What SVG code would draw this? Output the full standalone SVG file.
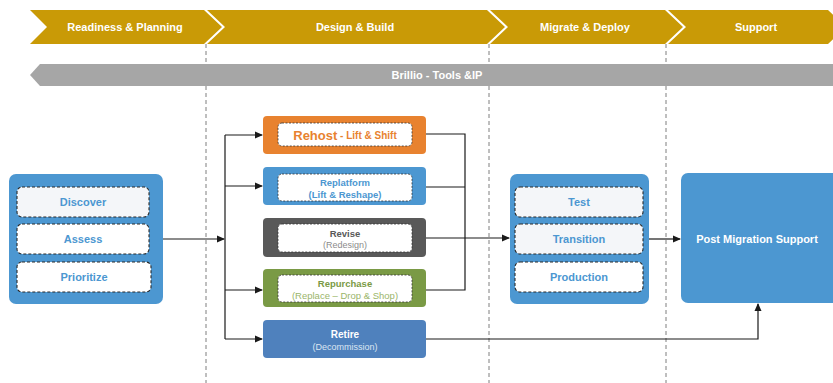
<svg xmlns="http://www.w3.org/2000/svg" width="833" height="383" viewBox="0 0 833 383">
<defs>
<marker id="ah" markerWidth="8" markerHeight="8" refX="7" refY="4" orient="auto" markerUnits="userSpaceOnUse">
<path d="M0,0.5 L8,4 L0,7.5 Z" fill="#1a1a1a"/>
</marker>
<style>
text{font-family:"Liberation Sans",Arial,sans-serif;text-anchor:middle;dominant-baseline:central}
.phase{fill:#c99a06}
.pt{fill:#ffffff;font-weight:bold;font-size:11px}
.vdash{stroke:#7f7f7f;stroke-width:1;stroke-dasharray:4,3;fill:none}
.blue{fill:#4c97d1}
.inner{stroke:#2b2b2b;stroke-width:1.1;stroke-dasharray:3,2}
.innerw{fill:#ffffff}
.innerl{fill:#f4f6f9}
.bt{fill:#4c97d1;font-weight:bold;font-size:11px}
.conn{stroke:#1a1a1a;stroke-width:1.2;fill:none}
.mdash{fill:#ffffff;stroke:#333;stroke-width:0.8;stroke-dasharray:2,1.5}
</style>
</defs>

<g id="phases">
<path class="phase" d="M30,10 L204,10 L222,27 L204,44 L30,44 L47,27 Z"/>
<path class="phase" d="M207,10 L487,10 L505,27 L487,44 L207,44 L225,27 Z"/>
<path class="phase" d="M490,10 L665,10 L683,27 L665,44 L490,44 L508,27 Z"/>
<path class="phase" d="M668,10 L828,10 L846,27 L828,44 L668,44 L686,27 Z"/>
<text class="pt" x="125" y="27">Readiness &amp; Planning</text>
<text class="pt" x="355" y="27">Design &amp; Build</text>
<text class="pt" x="585" y="27">Migrate &amp; Deploy</text>
<text class="pt" x="756" y="27">Support</text>
</g>

<g id="dividers">
<line class="vdash" x1="206" y1="44" x2="206" y2="383"/>
<line class="vdash" x1="489" y1="44" x2="489" y2="383"/>
<line class="vdash" x1="666" y1="44" x2="666" y2="383"/>
</g>

<g id="tools-bar">
<path d="M40,64 L833,64 L833,86 L40,86 L30,75 Z" fill="#a6a6a6"/>
<text class="pt" x="437" y="75">Brillio - Tools &amp;IP</text>
</g>

<g id="connectors">
<line class="conn" x1="163" y1="239" x2="224" y2="239" marker-end="url(#ah)"/>
<line class="conn" x1="225" y1="135" x2="225" y2="339"/>
<line class="conn" x1="225" y1="135" x2="262" y2="135" marker-end="url(#ah)"/>
<line class="conn" x1="225" y1="186" x2="262" y2="186" marker-end="url(#ah)"/>
<line class="conn" x1="225" y1="290" x2="262" y2="290" marker-end="url(#ah)"/>
<line class="conn" x1="225" y1="339" x2="262" y2="339" marker-end="url(#ah)"/>
<polyline class="conn" points="426,134 465,134 465,290 426,290"/>
<line class="conn" x1="426" y1="187" x2="465" y2="187"/>
<line class="conn" x1="426" y1="238" x2="509" y2="238" marker-end="url(#ah)"/>
<line class="conn" x1="649" y1="239" x2="680" y2="239" marker-end="url(#ah)"/>
<polyline class="conn" points="426,339 758,339 758,304" marker-end="url(#ah)"/>
</g>

<g id="readiness">
<rect class="blue" x="9" y="174" width="154" height="130" rx="7"/>
<rect class="inner innerl" x="17" y="187" width="132" height="30" rx="5"/>
<rect class="inner innerw" x="17" y="224" width="132" height="30" rx="5"/>
<rect class="inner innerw" x="17" y="262" width="134" height="30" rx="5"/>
<text class="bt" x="83" y="202">Discover</text>
<text class="bt" x="83" y="239">Assess</text>
<text class="bt" x="84" y="277">Prioritize</text>
</g>

<g id="rehost">
<rect x="263" y="116" width="163" height="38" rx="4" fill="#e8822f"/>
<rect class="mdash" x="278" y="123" width="134" height="23" rx="4"/>
<text x="345" y="135" fill="#e8822f" font-weight="bold"><tspan font-size="13px">Rehost</tspan><tspan font-size="10px"> - Lift &amp; Shift</tspan></text>
</g>

<g id="replatform">
<rect x="263" y="167" width="163" height="38" rx="4" fill="#4c97d1"/>
<rect class="mdash" x="278" y="174" width="134" height="27" rx="4"/>
<text x="345" y="182" fill="#4c97d1" font-weight="bold" font-size="9.5px">Replatform</text>
<text x="345" y="194" fill="#4c97d1" font-weight="bold" font-size="9.5px">(Lift &amp; Reshape)</text>
</g>

<g id="revise">
<rect x="263" y="218" width="163" height="39" rx="4" fill="#595959"/>
<rect class="mdash" x="278" y="224" width="134" height="28" rx="4"/>
<text x="345" y="233" fill="#595959" font-weight="bold" font-size="9.5px">Revise</text>
<text x="345" y="245" fill="#8c8c8c" font-size="9px">(Redesign)</text>
</g>

<g id="repurchase">
<rect x="263" y="269" width="163" height="38" rx="4" fill="#7a9a45"/>
<rect class="mdash" x="278" y="275" width="134" height="27" rx="4"/>
<text x="345" y="283" fill="#7a9a45" font-weight="bold" font-size="9.5px">Repurchase</text>
<text x="345" y="295" fill="#9ab56a" font-size="9.5px">(Replace – Drop &amp; Shop)</text>
</g>

<g id="retire">
<rect x="263" y="320" width="163" height="38" rx="4" fill="#4f81bd"/>
<text x="345" y="334" fill="#ffffff" font-weight="bold" font-size="10px">Retire</text>
<text x="345" y="347" fill="#dce6f2" font-size="9px">(Decommission)</text>
</g>

<g id="migrate">
<rect class="blue" x="510" y="174" width="139" height="130" rx="7"/>
<rect class="inner innerl" x="515" y="187" width="128" height="30" rx="5"/>
<rect class="inner innerl" x="515" y="224" width="128" height="30" rx="5"/>
<rect class="inner innerw" x="515" y="262" width="128" height="30" rx="5"/>
<text class="bt" x="579" y="202">Test</text>
<text class="bt" x="579" y="239">Transition</text>
<text class="bt" x="579" y="277">Production</text>
</g>

<g id="support">
<rect class="blue" x="681" y="173" width="160" height="130" rx="7"/>
<text class="pt" x="757" y="239">Post Migration Support</text>
</g>
</svg>
